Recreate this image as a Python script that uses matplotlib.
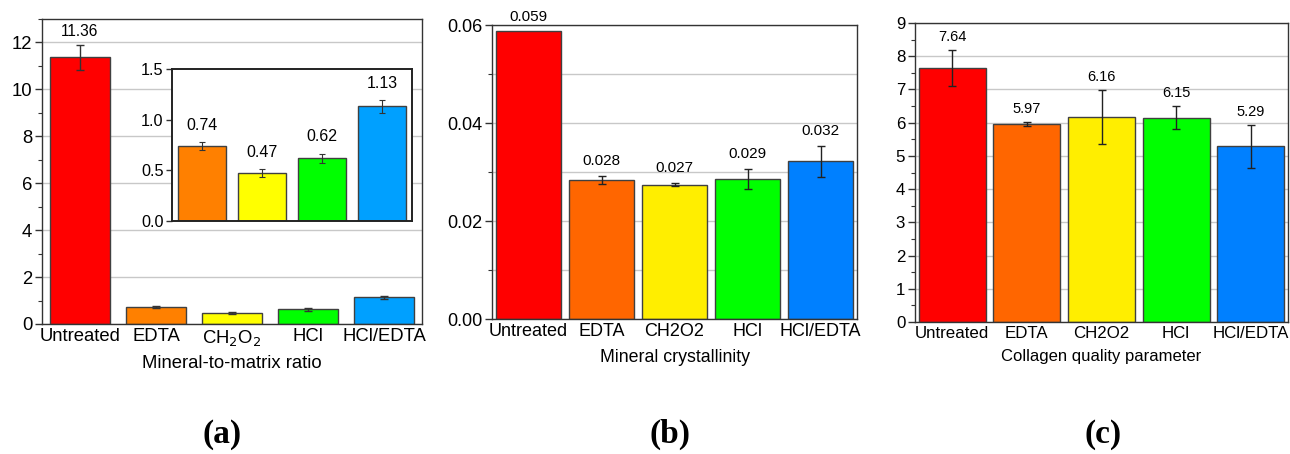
import matplotlib
matplotlib.use("Agg")
import matplotlib.pyplot as plt
from matplotlib.ticker import MultipleLocator, FormatStrFormatter

plt.rcParams['font.family'] = ['Liberation Sans', 'DejaVu Sans']

# ---- data ----
cats_a = ["Untreated", "EDTA", "CH$_2$O$_2$", "HCl", "HCl/EDTA"]
cats_bc = ["Untreated", "EDTA", "CH2O2", "HCl", "HCl/EDTA"]

mm_vals = [11.36, 0.74, 0.47, 0.62, 1.13]
mm_err = [0.55, 0.04, 0.04, 0.045, 0.065]
mm_labels = ["11.36", "0.74", "0.47", "0.62", "1.13"]

cr_vals = [0.0587, 0.0284, 0.0274, 0.0286, 0.0322]
cr_err = [0.0, 0.0008, 0.0003, 0.0021, 0.0032]
cr_labels = ["0.059", "0.028", "0.027", "0.029", "0.032"]

cq_vals = [7.64, 5.97, 6.16, 6.15, 5.29]
cq_err = [0.54, 0.065, 0.81, 0.35, 0.64]
cq_labels = ["7.64", "5.97", "6.16", "6.15", "5.29"]

colors_a = ["#FF0000", "#FF8000", "#FFFF00", "#00FF00", "#00A0FF"]
colors_bc = ["#FF0000", "#FF6600", "#FFEE00", "#00FF00", "#0080FF"]

W, H = 1290, 454
fig = plt.figure(figsize=(W / 100, H / 100), dpi=100)

def rect(l, t, r, b):
    return [l / W, 1 - b / H, (r - l) / W, (b - t) / H]

edge = "#404040"
gridc = "#c8c8c8"

def style(ax, fs):
    for s in ax.spines.values():
        s.set_color("#333333")
        s.set_linewidth(1.0)
    ax.tick_params(axis='y', which='major', direction='out', length=5, width=1,
                   color="#333333", labelsize=fs, pad=2)
    ax.tick_params(axis='y', which='minor', direction='out', length=3, width=0.8,
                   color="#333333")
    ax.tick_params(axis='x', which='both', length=0, labelsize=fs, pad=3)
    ax.set_axisbelow(True)

def errbars(ax, xs, vals, errs, lw=1, cap=3, color="#222222"):
    xx = [xv for xv, e in zip(xs, errs) if e > 0]
    yy = [v for v, e in zip(vals, errs) if e > 0]
    ee = [e for e in errs if e > 0]
    ax.errorbar(xx, yy, yerr=ee, fmt='none', ecolor=color, elinewidth=lw,
                capsize=cap, capthick=lw, zorder=3)

# ---- panel a ----
ax = fig.add_axes(rect(42, 19, 422, 324))
x = list(range(len(cats_a)))
ax.bar(x, mm_vals, width=0.8, color=colors_a, edgecolor=edge, linewidth=1)
errbars(ax, x, mm_vals, mm_err, color="#333333")
ax.set_xlim(-0.5, 4.5)
ax.set_ylim(0, 13)
ax.yaxis.set_major_locator(MultipleLocator(2))
ax.yaxis.set_minor_locator(MultipleLocator(1))
ax.yaxis.grid(True, which='major', color=gridc, linewidth=1)
ax.set_xticks(x)
ax.set_xticklabels(cats_a)
style(ax, 13.3)
ax.text(x[0], mm_vals[0] + mm_err[0] + 0.25, mm_labels[0], ha='center', va='bottom', fontsize=11.2)
ax.set_xlabel("Mineral-to-matrix ratio", fontsize=13.3, labelpad=5)
fig.text(222 / W, 1 - 434 / H, "(a)", ha='center', va='center', fontsize=24,
         fontweight='bold', family='Liberation Serif')

# inset
axi = fig.add_axes(rect(172, 69, 412, 221))
xi = list(range(4))
axi.bar(xi, mm_vals[1:], width=0.8, color=colors_a[1:], edgecolor=edge, linewidth=1)
errbars(axi, xi, mm_vals[1:], mm_err[1:], lw=0.8, cap=2, color="#333333")
axi.set_xlim(-0.5, 3.5)
axi.set_ylim(0, 1.5)
axi.yaxis.set_major_locator(MultipleLocator(0.5))
axi.yaxis.set_major_formatter(FormatStrFormatter('%.1f'))
axi.set_xticks([])
for s in axi.spines.values():
    s.set_color("#222222")
    s.set_linewidth(1.4)
axi.tick_params(axis='y', which='major', direction='out', length=4, width=1,
                color="#333333", labelsize=11.7, pad=2)
for xv, v, e, lab in zip(xi, mm_vals[1:], mm_err[1:], mm_labels[1:]):
    axi.text(xv, v + e + 0.09, lab, ha='center', va='bottom', fontsize=11.5)

# ---- panel b ----
ax = fig.add_axes(rect(492, 25, 857, 319))
x = list(range(len(cats_bc)))
ax.bar(x, cr_vals, width=0.9, color=colors_bc, edgecolor=edge, linewidth=1)
errbars(ax, x, cr_vals, cr_err)
ax.set_xlim(-0.5, 4.5)
ax.set_ylim(0, 0.06)
ax.yaxis.set_major_locator(MultipleLocator(0.02))
ax.yaxis.set_minor_locator(MultipleLocator(0.01))
ax.yaxis.set_major_formatter(FormatStrFormatter('%.2f'))
ax.yaxis.grid(True, which='both', color=gridc, linewidth=1)
ax.set_xticks(x)
ax.set_xticklabels(cats_bc)
style(ax, 13)
for xv, v, e, lab in zip(x, cr_vals, cr_err, cr_labels):
    ax.text(xv, v + e + 0.0016, lab, ha='center', va='bottom', fontsize=11)
ax.set_xlabel("Mineral crystallinity", fontsize=12.8, labelpad=6)
fig.text(670 / W, 1 - 434 / H, "(b)", ha='center', va='center', fontsize=24,
         fontweight='bold', family='Liberation Serif')

# ---- panel c ----
ax = fig.add_axes(rect(915, 23, 1288, 322))
ax.bar(x, cq_vals, width=0.9, color=colors_bc, edgecolor=edge, linewidth=1)
errbars(ax, x, cq_vals, cq_err)
ax.set_xlim(-0.5, 4.5)
ax.set_ylim(0, 9)
ax.yaxis.set_major_locator(MultipleLocator(1))
ax.yaxis.set_minor_locator(MultipleLocator(0.5))
ax.yaxis.grid(True, which='major', color=gridc, linewidth=1)
ax.set_xticks(x)
ax.set_xticklabels(cats_bc)
style(ax, 12.2)
for xv, v, e, lab in zip(x, cq_vals, cq_err, cq_labels):
    ax.text(xv, v + e + 0.18, lab, ha='center', va='bottom', fontsize=10.5)
ax.set_xlabel("Collagen quality parameter", fontsize=12, labelpad=6)
fig.text(1103 / W, 1 - 434 / H, "(c)", ha='center', va='center', fontsize=24,
         fontweight='bold', family='Liberation Serif')

fig.savefig("out.png", dpi=100)
